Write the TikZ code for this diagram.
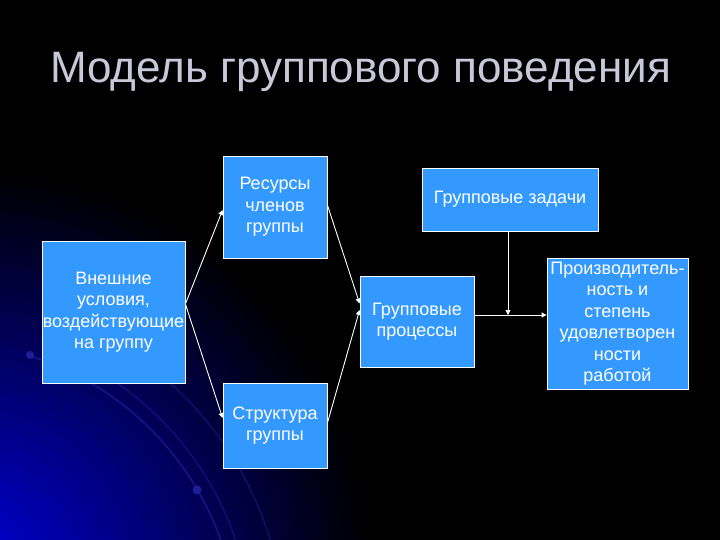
\documentclass[tikz,border=0pt]{standalone}
\usepackage{fontspec}
\setmainfont{Liberation Sans}
\usetikzlibrary{arrows.meta,calc}
\definecolor{boxblue}{RGB}{51,153,255}
\definecolor{titlegray}{RGB}{200,200,218}
\definecolor{arcblue}{RGB}{30,30,150}
\definecolor{glowblue}{RGB}{0,0,215}
\tikzset{
  blockbox/.style={fill=boxblue, draw=white, line width=0.8pt, text=white,
    align=center, inner sep=0pt, font=\fontsize{18}{21.5}\selectfont},
  conn/.style={draw=white, line width=0.9pt, -{Triangle[width=5pt,length=5pt]}},
}
\begin{document}
\begin{tikzpicture}[x=1pt,y=-1pt]
\useasboundingbox (0,0) rectangle (720,540);
% background
\begin{scope}
\clip (0,0) rectangle (720,540);
\fill[black] (0,0) rectangle (720,540);
\shade[inner color=glowblue, outer color=black] (-30,570) circle (400);
\coordinate (ctr) at (-60,640);
\draw[arcblue, line width=1.6pt, opacity=0.7] (ctr) ++(-72:298) arc[start angle=-72, end angle=-10, radius=298];
\draw[arcblue, line width=1.2pt, opacity=0.6] (ctr) ++(-70:312) arc[start angle=-70, end angle=-10, radius=312];
\draw[arcblue, line width=1.2pt, opacity=0.6] (ctr) ++(-64:345) arc[start angle=-64, end angle=-10, radius=345];
\fill[arcblue] (30,355) circle (4);
\fill[arcblue] (197,490) circle (4.5);
\end{scope}
% title
\node[anchor=base, text=titlegray, font=\fontsize{44}{50}\selectfont, inner sep=0pt]
  (title) at (360.5,83) {Модель группового поведения};
% boxes
\node[blockbox, minimum width=143pt, minimum height=142pt] (ext) at (113.5,312)
  {Внешние\\условия,\\воздействующие\\на группу};
\node[blockbox, minimum width=104pt, minimum height=102pt] (res) at (275,207)
  {Ресурсы\\членов\\группы};
\node[blockbox, minimum width=104pt, minimum height=85pt] (str) at (275,425.5)
  {Структура\\группы};
\node[blockbox, minimum width=176pt, minimum height=63pt] (tasks) at (510,199.5)
  {Групповые задачи};
\node[blockbox, minimum width=114pt, minimum height=91pt] (proc) at (417,321.5)
  {Групповые\\процессы};
\node[blockbox, minimum width=141pt, minimum height=131pt] (prod) at (617.5,323.5)
  {Производитель-\\ность и\\степень\\удовлетворен\\ности\\работой};
% connectors
\draw[conn] ([yshift=8pt]ext.east) -- ([yshift=-3pt]res.west);
\draw[conn] ([yshift=8pt]ext.east) -- ([yshift=7.5pt]str.west);
\draw[conn] ([yshift=2pt]res.east) -- ([yshift=18pt]proc.west);
\draw[conn] ([yshift=2.5pt]str.east) -- ([yshift=11.5pt]proc.west);
\draw[conn] ([yshift=6.5pt]proc.east) -- ([yshift=8.5pt]prod.west);
\coordinate (join) at ($([yshift=6.5pt]proc.east)!0.5!([yshift=8.5pt]prod.west)$);
\draw[conn] ([xshift=-2pt]tasks.south) -- ([xshift=-2pt]tasks.south |- join);
\end{tikzpicture}
\end{document}
